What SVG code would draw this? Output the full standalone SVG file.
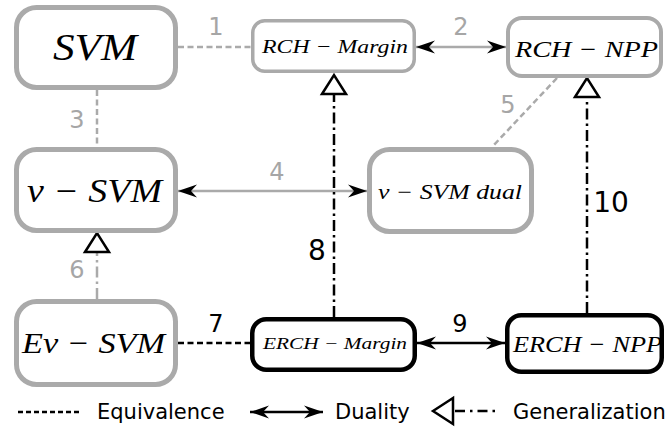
<svg xmlns="http://www.w3.org/2000/svg" width="668" height="427" viewBox="0 0 668 427">
<style>
.gbox{fill:#fff;stroke:#aaaaaa;stroke-width:5}
.bbox{fill:#fff;stroke:#000;stroke-width:4.5}
.math{font-family:"Liberation Serif","DejaVu Serif",serif;font-style:italic;fill:#000}
.lbl{font-family:"DejaVu Sans",sans-serif;font-size:24px;text-anchor:middle}
.glbl{fill:#a6a6a6}
.blbl{fill:#000}
.leg{font-family:"DejaVu Sans",sans-serif;font-size:21px;fill:#000}
.gline{fill:none;stroke:#aaaaaa;stroke-width:2.5}
.bline{fill:none;stroke:#000;stroke-width:2.5}
.equiv{stroke-dasharray:6,3.5}
.gen{stroke-dasharray:11,4,2.5,4}
</style>
<defs>
<marker id="arr" markerUnits="userSpaceOnUse" orient="auto-start-reverse" refX="0" refY="0" markerWidth="22" markerHeight="14" viewBox="-20 -7 22 14" overflow="visible">
<path d="M0,0 L-19,-6.5 L-13,0 L-19,6.5 Z" fill="#000"/>
</marker>
<marker id="tri" markerUnits="userSpaceOnUse" orient="auto" refX="0" refY="0" markerWidth="24" markerHeight="28" viewBox="-2 -14 24 28" overflow="visible">
<path d="M0,-12 L19,0 L0,12 Z" fill="#fff" stroke="#000" stroke-width="2.5" stroke-linejoin="miter"/>
</marker>
</defs>

<g id="connectors">
<line id="c1" class="gline equiv" x1="178" y1="47" x2="251" y2="47"/>
<line id="c2" class="gline" x1="416" y1="47" x2="506" y2="47" marker-start="url(#arr)" marker-end="url(#arr)"/>
<line id="c3" class="gline equiv" x1="97" y1="90" x2="97" y2="147"/>
<line id="c4" class="gline" x1="178" y1="191" x2="367" y2="191" marker-start="url(#arr)" marker-end="url(#arr)"/>
<line id="c5" class="gline equiv" x1="557" y1="78" x2="492" y2="147"/>
<line id="c6" class="gline gen" x1="97" y1="299" x2="97" y2="252" marker-end="url(#tri)"/>
<line id="c7" class="bline equiv" x1="178" y1="343" x2="250" y2="343"/>
<line id="c8" class="bline gen" x1="334" y1="317" x2="334" y2="94" marker-end="url(#tri)"/>
<line id="c9" class="bline" x1="417" y1="343" x2="505" y2="343" marker-start="url(#arr)" marker-end="url(#arr)"/>
<line id="c10" class="bline gen" x1="587" y1="313" x2="587" y2="97" marker-end="url(#tri)"/>
<text class="lbl glbl" x="216" y="35">1</text>
<text class="lbl glbl" x="461" y="35">2</text>
<text class="lbl glbl" x="77" y="128">3</text>
<text class="lbl glbl" x="277" y="180">4</text>
<text class="lbl glbl" x="508" y="113">5</text>
<text class="lbl glbl" x="77" y="278">6</text>
<text class="lbl blbl" x="216" y="332">7</text>
<text class="lbl blbl" x="317" y="260" style="font-size:28px">8</text>
<text class="lbl blbl" x="460" y="332">9</text>
<text class="lbl blbl" x="611" y="212" style="font-size:28px">10</text>
</g>

<g id="svm">
<rect class="gbox" x="16.5" y="7.5" width="159" height="80" rx="20"/>
<text class="math" x="53" y="60" font-size="38" textLength="84" lengthAdjust="spacingAndGlyphs">SVM</text>
</g>
<g id="rch-margin">
<rect class="gbox" x="252.75" y="20.75" width="161.5" height="50.5" rx="12" style="stroke-width:3.5"/>
<text class="math" x="262" y="53" font-size="19" textLength="146" lengthAdjust="spacingAndGlyphs">RCH − Margin</text>
</g>
<g id="rch-npp">
<rect class="gbox" x="508" y="18" width="153" height="58" rx="14" style="stroke-width:4"/>
<text class="math" x="515" y="57" font-size="23" textLength="143" lengthAdjust="spacingAndGlyphs">RCH − NPP</text>
</g>
<g id="nu-svm">
<rect class="gbox" x="16.5" y="149.5" width="159" height="81" rx="20"/>
<text class="math" x="27" y="202" font-size="33" textLength="135" lengthAdjust="spacingAndGlyphs">ν − SVM</text>
</g>
<g id="nu-svm-dual">
<rect class="gbox" x="369.5" y="149.5" width="162" height="82" rx="20"/>
<text class="math" x="378" y="199" font-size="21" textLength="144" lengthAdjust="spacingAndGlyphs">ν − SVM dual</text>
</g>
<g id="enu-svm">
<rect class="gbox" x="16.5" y="301.5" width="159" height="83" rx="20"/>
<text class="math" x="22" y="353" font-size="30" textLength="143" lengthAdjust="spacingAndGlyphs">Eν − SVM</text>
</g>
<g id="erch-margin">
<rect class="bbox" x="252.25" y="319.25" width="162.5" height="50.5" rx="14"/>
<text class="math" x="263" y="349" font-size="17" textLength="144" lengthAdjust="spacingAndGlyphs">ERCH − Margin</text>
</g>
<g id="erch-npp">
<rect class="bbox" x="507.25" y="315.25" width="154.5" height="56.5" rx="14"/>
<text class="math" x="513" y="352" font-size="23" textLength="149" lengthAdjust="spacingAndGlyphs">ERCH − NPP</text>
</g>

<g id="legend">
<line class="bline" x1="18" y1="412" x2="82" y2="412" stroke-dasharray="5,3"/>
<text class="leg" x="97" y="419">Equivalence</text>
<line class="bline" x1="250" y1="412" x2="323" y2="412" marker-start="url(#arr)" marker-end="url(#arr)"/>
<text class="leg" x="335" y="419">Duality</text>
<polygon points="433,411 453,398 453,424" fill="#fff" stroke="#000" stroke-width="2.5"/>
<line class="bline" x1="455" y1="411" x2="497" y2="411" stroke-dasharray="10,5,2.5,5"/>
<text class="leg" x="513" y="419">Generalization</text>
</g>
</svg>
